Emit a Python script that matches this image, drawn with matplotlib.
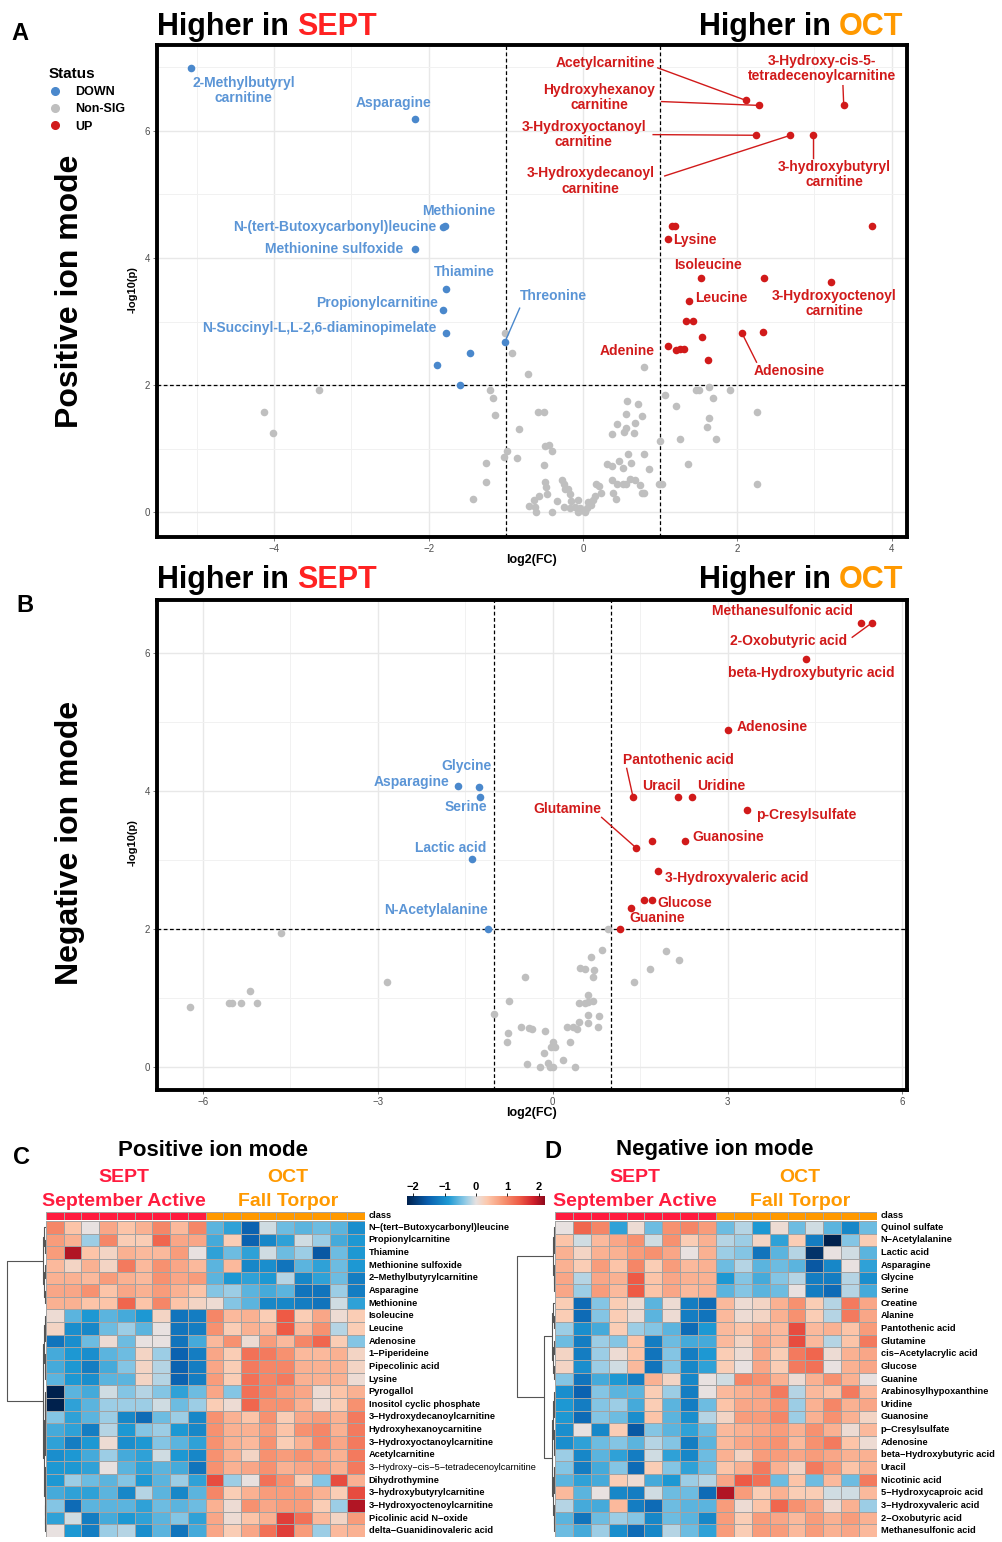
import numpy as np
import matplotlib.pyplot as plt
from matplotlib.colors import LinearSegmentedColormap, ListedColormap
from matplotlib.lines import Line2D

plt.rcParams['font.family'] = ['Liberation Sans', 'DejaVu Sans']

# ---------------- data: panel A, positive ion mode ----------------
pos_down_fc = [-5.08, -2.18, -1.79, -1.81, -2.18, -1.77, -1.81, -1.77, -1.01, -1.46, -1.89, -1.59]
pos_down_p = [6.99, 6.19, 4.50, 4.49, 4.14, 3.51, 3.18, 2.82, 2.68, 2.50, 2.31, 2.00]
pos_down_names = ["2-Methylbutyryl\ncarnitine", "Asparagine", "Methionine",
                  "N-(tert-Butoxycarbonyl)leucine", "Methionine sulfoxide", "Thiamine",
                  "Propionylcarnitine", "N-Succinyl-L,L-2,6-diaminopimelate", "Threonine", "", "", ""]

pos_up_fc = [2.11, 2.28, 3.38, 2.24, 2.69, 2.98, 1.10, 1.53, 1.37, 3.22, 1.10, 2.06,
             1.15, 1.19, 3.74, 2.35, 1.34, 1.43, 1.54, 2.34, 1.20, 1.26, 1.31, 1.62]
pos_up_p = [6.48, 6.40, 6.40, 5.93, 5.93, 5.93, 4.30, 3.69, 3.33, 3.62, 2.61, 2.82,
            4.51, 4.50, 4.51, 3.69, 3.01, 3.01, 2.75, 2.83, 2.55, 2.57, 2.57, 2.39]
pos_up_names = ["Acetylcarnitine", "Hydroxyhexanoy\ncarnitine", "3-Hydroxy-cis-5-\ntetradecenoylcarnitine",
                "3-Hydroxyoctanoyl\ncarnitine", "3-Hydroxydecanoyl\ncarnitine", "3-hydroxybutyryl\ncarnitine",
                "Lysine", "Isoleucine", "Leucine", "3-Hydroxyoctenoyl\ncarnitine", "Adenine", "Adenosine",
                "", "", "", "", "", "", "", "", "", "", "", ""]

pos_ns_fc = [-4.13, -4.02, -3.42, -1.01, -0.92, -0.71, -1.21, -1.16, -1.14, -0.83, -0.58, -0.50,
             -0.98, -1.02, -0.86, -1.25, -1.26, -1.42, -0.49, -0.44, -0.40, -0.50, -0.49, -0.48,
             -0.47, -0.57, -0.64, -0.70, -0.62, -0.61, -0.40, -0.34, -0.27, -0.25, -0.23, -0.19,
             -0.17, -0.15, -0.25, -0.10, -0.07, -0.02, 0.03, 0.05, 0.07, 0.11, 0.13, 0.155,
             -0.06, -0.04, -0.17, 0.17, 0.21, 0.24, 0.31, 0.38, 0.39, 0.43, 0.38, 0.44, 0.52,
             0.61, 0.68, 0.56, 0.74, 0.76, 0.79, 0.47, 0.52, 0.62, 0.85, 0.59, 0.79, 0.38, 0.53,
             0.66, 0.44, 0.56, 0.68, 0.57, 0.72, 0.56, 0.77, 0.79, 0.98, 1.02, 1.00, 1.07, 1.21,
             1.47, 1.50, 1.64, 1.69, 1.90, 1.64, 1.61, 1.72, 1.26, 1.36, 2.25, 2.25]
pos_ns_p = [1.58, 1.25, 1.92, 2.82, 2.50, 2.17, 1.92, 1.80, 1.53, 1.31, 1.58, 1.58,
            0.97, 0.87, 0.85, 0.78, 0.47, 0.20, 1.04, 1.06, 0.96, 0.75, 0.47, 0.40,
            0.29, 0.26, 0.19, 0.10, 0.08, 0.0, 0.0, 0.18, 0.50, 0.44, 0.36, 0.36,
            0.29, 0.18, 0.08, 0.08, 0.0, 0.03, 0.0, 0.07, 0.16, 0.12, 0.19, 0.25,
            0.19, 0.07, 0.07, 0.45, 0.41, 0.31, 0.76, 0.73, 0.31, 0.20, 0.50, 0.45, 0.45,
            0.52, 0.50, 0.45, 0.43, 0.31, 0.31, 0.80, 0.70, 0.77, 0.68, 0.92, 0.92, 1.23, 1.26,
            1.24, 1.39, 1.33, 1.41, 1.75, 1.70, 1.54, 1.51, 2.28, 0.45, 0.44, 1.12, 1.85, 1.67,
            1.92, 1.92, 1.97, 1.80, 1.92, 1.48, 1.34, 1.15, 1.15, 0.76, 1.57, 0.44]

# ---------------- data: panel B, negative ion mode ----------------
neg_down_fc = [-1.63, -1.27, -1.25, -1.39, -1.11]
neg_down_p = [4.08, 4.06, 3.92, 3.01, 2.00]
neg_down_names = ["Asparagine", "Glycine", "Serine", "Lactic acid", "N-Acetylalanine"]

neg_up_fc = [5.29, 5.48, 4.34, 3.00, 1.38, 2.15, 2.39, 3.34, 2.27, 1.43, 1.80, 1.70, 1.34, 1.71, 1.57, 1.15]
neg_up_p = [6.44, 6.44, 5.91, 4.88, 3.91, 3.91, 3.91, 3.72, 3.28, 3.18, 2.84, 2.43, 2.30, 3.28, 2.43, 2.00]
neg_up_names = ["Methanesulfonic acid", "2-Oxobutyric acid", "beta-Hydroxybutyric acid", "Adenosine",
                "Pantothenic acid", "Uracil", "Uridine", "p-Cresylsulfate", "Guanosine", "Glutamine",
                "3-Hydroxyvaleric acid", "Glucose", "Guanine", "", "", ""]

neg_ns_fc = [-4.66, -6.23, -5.55, -5.51, -5.34, -5.08, -5.20, -2.84, -1.01, -0.75, -0.48, -0.76,
             -0.78, -0.54, -0.40, -0.36, -0.14, 0.0, -0.03, 0.04, -0.15, -0.44, -0.21, -0.08,
             -0.04, 0.0, 0.17, 0.30, 0.38, 0.24, 0.34, 0.41, 0.45, 0.60, 0.60, 0.79, 0.78, 0.46,
             0.55, 0.60, 0.69, 0.61, 0.70, 0.71, 0.47, 0.55, 0.65, 0.85, 0.95, 1.94, 2.16, 1.67, 1.39]
neg_ns_p = [1.94, 0.87, 0.93, 0.93, 0.93, 0.93, 1.11, 1.23, 0.77, 0.96, 1.31, 0.49,
            0.36, 0.58, 0.57, 0.56, 0.53, 0.36, 0.29, 0.29, 0.21, 0.04, 0.01, 0.06,
            0.01, 0.0, 0.11, 0.37, 0.0, 0.58, 0.58, 0.56, 0.66, 0.64, 0.76, 0.74, 0.58, 0.93,
            0.93, 0.95, 0.96, 1.05, 1.31, 1.41, 1.44, 1.43, 1.60, 1.70, 2.00, 1.69, 1.56, 1.42, 1.23]

# ---------------- data: heatmaps (z-scores) ----------------
pos_rows = ["N\u2212(tert\u2212Butoxycarbonyl)leucine", "Propionylcarnitine", "Thiamine", "Methionine sulfoxide",
            "2\u2212Methylbutyrylcarnitine", "Asparagine", "Methionine", "Isoleucine", "Leucine", "Adenosine",
            "1\u2212Piperideine", "Pipecolinic acid", "Lysine", "Pyrogallol", "Inositol cyclic phosphate",
            "3\u2212Hydroxydecanoylcarnitine", "Hydroxyhexanoycarnitine", "3\u2212Hydroxyoctanoylcarnitine",
            "Acetylcarnitine", "3\u2212Hydroxy\u2212cis\u22125\u2212tetradecenoylcarnitine", "Dihydrothymine",
            "3\u2212hydroxybutyrylcarnitine", "3\u2212Hydroxyoctenoylcarnitine", "Picolinic acid N\u2212oxide",
            "delta\u2212Guanidinovaleric acid"]
pos_heat = [
    [1.0, 0.4, 0.0, 0.7, 0.4, 0.6, 1.0, 0.5, 1.0, -0.6, -0.8, -1.5, -0.1, -0.5, -0.6, -0.5, -0.6, -1.0],
    [0.8, 0.6, -0.3, 1.0, 0.3, 0.3, 1.3, 0.7, 0.7, -0.7, 0.3, -1.5, -1.1, -0.8, -0.1, -0.3, -0.7, -0.9],
    [0.8, 2.0, 0.4, 0.2, 0.6, 0.5, 0.5, 0.8, 0.0, -0.8, -0.5, -0.8, -0.1, -0.5, -0.3, -1.6, -0.5, -0.9],
    [0.5, 0.2, 0.6, 0.2, 1.1, 0.5, 0.9, 0.7, 0.5, -0.6, 0.5, -1.1, -1.0, -1.3, -0.6, -0.8, -0.5, -0.9],
    [0.6, 0.6, 0.5, 0.8, 0.6, 0.5, 0.9, 0.7, 0.8, -0.6, -0.9, -0.8, -0.9, -0.2, -1.1, -0.8, -0.5, -1.2],
    [0.7, 0.7, 0.9, 0.4, 0.7, 0.6, 0.8, 0.6, 0.4, -0.4, -0.3, -0.6, -0.7, -0.6, -1.3, -1.3, -0.3, -1.2],
    [0.6, 0.6, 0.4, 0.4, 1.3, 0.4, 1.0, 0.4, 0.2, 0.1, -0.4, -0.6, -1.1, -1.1, -1.2, -1.3, -0.1, -0.8],
    [0.1, -0.6, -0.9, -0.6, -0.7, -0.9, 0.2, -1.3, -1.2, 1.0, 0.5, 0.6, 0.3, 1.4, 0.3, 0.7, 0.1, 0.3],
    [0.2, -1.0, -1.1, -0.5, -0.3, -0.6, 0.0, -1.3, -1.2, 0.9, 0.3, 0.6, 0.5, 1.4, 0.5, 0.9, -0.2, 0.3],
    [-1.3, -1.0, -0.5, 0.1, -0.5, 0.0, 0.0, -1.3, -0.7, 0.5, 0.9, 0.1, 0.8, 0.5, 1.0, 1.3, 0.3, -0.4],
    [-0.7, -0.9, -1.0, -0.6, -0.5, 0.2, -0.3, -1.5, -1.2, 0.7, 0.3, 1.2, 1.1, 0.9, 0.5, 0.5, 0.6, 0.2],
    [-0.7, -0.9, -1.2, -0.7, -0.4, 0.2, -0.2, -1.5, -1.2, 0.7, 0.3, 1.1, 1.0, 1.0, 0.6, 0.6, 0.6, 0.2],
    [-0.6, -0.9, -1.0, -0.6, -0.6, 0.2, -0.2, -1.5, -1.2, 0.8, 0.3, 1.2, 1.0, 1.1, 0.6, 0.6, 0.6, 0.1],
    [-2.2, -0.6, -0.7, -0.1, -0.4, -0.2, -0.4, -0.8, -0.5, 0.7, -0.4, 1.2, 1.0, 0.8, 0.7, 0.1, 0.4, 0.6],
    [-2.4, -0.8, -0.6, -0.3, -0.3, -0.3, -0.1, -0.5, -0.3, 0.3, 0.1, 1.3, 0.9, 0.9, 0.6, 0.1, 0.3, 0.9],
    [-0.4, -0.8, -0.6, -0.3, -1.1, -1.4, -0.5, -0.3, -1.1, 0.9, 0.6, 0.4, 0.9, 0.3, 0.7, 0.8, 0.6, 1.1],
    [-0.7, -0.8, -1.2, -0.2, -0.9, -0.4, -0.3, -0.9, -1.1, 0.9, 0.6, 0.6, 0.8, 0.4, 0.9, 1.0, 0.6, 1.1],
    [-0.8, -1.2, -0.9, 0.1, -1.0, -0.9, -0.4, -0.6, -0.8, 0.9, 0.6, 0.5, 0.9, 0.3, 0.6, 1.0, 0.7, 1.1],
    [-1.0, -0.9, -0.7, -0.3, -0.7, -0.8, -0.1, -0.9, -1.1, 0.9, 0.6, 0.2, 0.9, 0.8, 0.9, 0.7, 0.6, 1.1],
    [-0.9, -0.9, -0.8, 0.0, -0.6, -0.8, -0.6, -0.7, -1.3, 0.9, 0.6, 0.7, 0.9, 0.6, 0.7, 0.8, 0.6, 1.1],
    [-0.9, -0.3, -0.5, -0.6, -0.4, -0.9, -0.6, -0.3, -0.8, 1.5, -0.3, 0.0, 1.2, 0.9, 0.3, -0.4, 1.5, 0.6],
    [-0.7, -0.8, -0.8, -0.6, -1.1, -0.2, -0.6, -1.1, -0.6, 1.0, 0.3, 0.6, 0.8, 0.8, 0.8, 0.6, 0.3, 1.5],
    [-0.4, -1.4, -0.6, -0.6, -0.6, -0.8, -0.5, -0.6, -0.5, 0.6, 0.1, 0.9, 0.7, 0.8, 0.8, 0.3, -0.3, 2.0],
    [-0.8, -0.1, -1.2, -0.7, -0.9, -0.8, -0.6, -0.4, -0.8, 0.7, 0.1, 0.4, 0.6, 1.6, 1.2, 0.5, 0.2, 0.8],
    [0.0, -0.9, -1.2, -0.3, -0.2, -1.0, -0.6, -1.3, -0.7, 0.7, 0.3, 0.7, 1.2, 1.6, 0.8, -0.3, 0.5, 0.6],
]

neg_rows = ["Quinol sulfate", "N\u2212Acetylalanine", "Lactic acid", "Asparagine", "Glycine", "Serine",
            "Creatine", "Alanine", "Pantothenic acid", "Glutamine", "cis\u2212Acetylacrylic acid", "Glucose",
            "Guanine", "Arabinosylhypoxanthine", "Uridine", "Guanosine", "p\u2212Cresylsulfate", "Adenosine",
            "beta\u2212Hydroxybutyric acid", "Uracil", "Nicotinic acid", "5\u2212Hydroxycaproic acid",
            "3\u2212Hydroxyvaleric acid", "2\u2212Oxobutyric acid", "Methanesulfonic acid"]
neg_heat = [
    [0.0, 1.3, 1.0, -0.8, 0.1, -0.5, 0.9, 1.0, 0.8, -0.5, -0.2, -0.9, 0.1, -0.5, -0.1, -0.6, -1.1, -0.5],
    [0.4, -0.1, 0.5, 0.7, 0.9, -0.1, 0.9, 0.3, 0.6, -0.2, -0.3, 0.2, -0.8, 0.3, -1.2, -2.3, -0.4, 0.3],
    [0.6, 0.2, 0.6, 0.6, 0.8, 0.9, 0.7, 0.0, 0.6, -0.3, -0.4, -1.3, -0.6, -0.2, -2.0, 0.0, -0.1, -0.6],
    [0.6, 0.3, 0.8, 0.4, 1.0, 0.3, 0.8, 0.5, 0.6, -0.5, -0.2, -0.6, -0.5, -0.6, -1.6, -1.1, 0.0, -0.8],
    [0.7, -0.2, 0.7, 0.6, 1.4, 0.4, 0.7, 0.6, 0.6, -0.9, -0.4, -0.7, -0.4, -0.2, -1.2, -1.2, -0.2, -1.0],
    [0.7, -0.3, 0.8, 0.5, 1.4, 0.4, 0.7, 0.5, 0.6, -0.6, -0.4, -0.6, -0.5, 0.0, -1.2, -1.4, -0.2, -0.7],
    [0.3, -1.4, -0.4, 0.3, 0.1, -0.6, 0.1, -1.2, -1.4, 0.5, 0.1, 0.2, 0.6, 0.9, 0.3, -0.2, 1.1, 0.7],
    [0.3, -1.4, -0.4, 0.3, 0.1, -0.6, 0.1, -1.2, -1.3, 0.5, 0.1, 0.2, 0.6, 0.9, 0.3, -0.2, 1.1, 0.7],
    [-0.3, -1.0, -0.7, 0.3, -0.3, -0.4, -0.6, -1.4, -0.9, 0.5, 0.4, 0.6, 0.5, 1.5, 0.5, 0.6, 0.4, 0.8],
    [-0.5, -1.2, -0.3, -0.4, 0.4, -1.2, -0.5, -0.7, -0.7, 0.5, 0.2, 0.7, 0.5, 1.5, 0.5, -0.2, 0.4, 1.1],
    [0.2, -1.2, -0.3, 0.1, 0.4, -1.3, -0.4, -1.2, -0.9, 0.3, 0.1, 0.7, 0.3, 1.1, 1.3, 0.1, 0.6, 0.7],
    [0.2, -1.0, -0.3, -0.1, 0.5, -1.3, -0.4, -1.1, -0.8, 0.3, 0.0, 0.7, 0.3, 1.1, 1.2, 0.0, 0.6, 0.7],
    [-0.4, -1.3, -0.7, -0.9, -1.2, 0.6, 0.2, -1.1, 0.0, -0.1, 1.0, 0.9, 0.6, 0.1, 0.6, 0.9, 0.6, 0.0],
    [-1.0, -1.5, -0.4, -0.6, -0.6, 0.3, -0.3, -1.2, 0.0, 0.5, 0.6, 0.7, 1.1, -0.2, 0.5, 0.4, 1.1, 0.5],
    [-0.9, -1.2, -0.4, -0.3, -0.7, 0.3, -0.6, -1.2, -0.5, 0.4, 0.7, 0.7, 0.9, -0.3, 0.6, 1.0, 0.6, 0.7],
    [-0.9, -1.4, -0.4, -0.5, -1.0, 0.4, -0.6, -1.0, -0.2, 0.2, 0.8, 0.8, 1.0, -0.3, 0.6, 0.9, 0.6, 0.2],
    [-1.0, 0.0, -1.1, 0.3, -1.6, -0.4, -0.6, -0.8, -0.5, 0.5, 0.6, 0.7, 0.8, 0.6, 0.9, 0.6, 0.1, 0.5],
    [-1.0, -0.8, -0.5, -0.4, -0.6, -0.2, -0.4, -1.2, -0.6, 0.5, 0.7, 0.8, 0.9, 0.5, 0.9, 1.1, 0.4, 0.1],
    [-0.3, -1.1, -0.6, -0.8, -1.2, -0.1, -0.8, -1.1, -0.5, 0.6, 0.2, 0.8, 0.8, 0.7, 0.8, 0.7, 0.6, 0.6],
    [-0.4, -1.2, -0.7, -0.4, -1.4, 0.3, -0.4, -0.8, -0.5, 0.4, 0.6, 1.1, 0.6, 0.2, 1.1, 0.8, 0.4, 0.6],
    [-0.6, -0.8, -0.7, 0.3, 0.1, -0.7, -0.9, -0.3, -0.2, 0.7, 1.4, 1.2, -0.5, 0.4, -0.5, 0.5, -0.5, 1.1],
    [0.5, -0.6, 0.0, -1.1, -1.2, -0.1, -0.5, -0.5, -1.4, 2.0, 0.8, 0.3, 0.6, 0.3, 0.3, -0.1, -0.1, 0.5],
    [-0.2, -0.7, -0.7, 0.5, -1.2, -1.4, -0.5, -0.6, -0.6, 0.8, 0.1, 0.4, 1.3, 0.9, 0.7, 0.1, 0.6, -0.3],
    [-0.6, -1.3, -0.5, -0.3, -0.4, -1.1, -0.5, -0.6, -1.1, 0.8, 0.3, 0.8, 0.7, 0.5, 0.8, 0.6, 0.8, 0.6],
    [-0.5, -0.7, -0.3, -1.0, -1.4, -1.1, -0.2, -0.5, -0.8, 0.8, 0.3, 0.8, 0.8, 0.5, 0.8, 0.6, 0.7, 0.5],
]
sample_class = ["SEPT"] * 9 + ["OCT"] * 9
pos_groups = [list(range(0, 7)), list(range(7, 13)), list(range(13, 25))]
neg_groups = [list(range(0, 6)), list(range(6, 13)), list(range(13, 25))]

# ---------------- styles / layout ----------------
BLUE = '#4a88cc'
BLUE_TXT = '#5b95d6'
RED = '#d11a1a'
GREY = '#bfbfbf'
SEPT_COL = '#ff1c3f'
OCT_COL = '#ff9900'
TITLE_RED = '#ff2222'

pos_layout = {
    "2-Methylbutyryl\ncarnitine": (-4.40, 6.63, 'center', None),
    "Asparagine": (-2.45, 6.43, 'center', None),
    "Methionine": (-1.61, 4.74, 'center', None),
    "N-(tert-Butoxycarbonyl)leucine": (-1.90, 4.49, 'right', None),
    "Methionine sulfoxide": (-2.33, 4.14, 'right', None),
    "Thiamine": (-1.54, 3.78, 'center', None),
    "Propionylcarnitine": (-1.88, 3.29, 'right', None),
    "N-Succinyl-L,L-2,6-diaminopimelate": (-1.90, 2.90, 'right', None),
    "Threonine": (-0.38, 3.40, 'center', (-0.82, 3.21)),
    "Acetylcarnitine": (0.285, 7.06, 'center', (0.97, 6.99)),
    "Hydroxyhexanoy\ncarnitine": (0.21, 6.52, 'center', (1.02, 6.46)),
    "3-Hydroxy-cis-5-\ntetradecenoylcarnitine": (3.10, 6.98, 'center', (3.37, 6.71)),
    "3-Hydroxyoctanoyl\ncarnitine": (0.01, 5.94, 'center', (0.91, 5.94)),
    "3-Hydroxydecanoyl\ncarnitine": (0.10, 5.21, 'center', (1.06, 5.29)),
    "3-hydroxybutyryl\ncarnitine": (3.26, 5.31, 'center', (2.98, 5.57)),
    "Lysine": (1.17, 4.28, 'left', None),
    "Isoleucine": (1.62, 3.89, 'center', None),
    "Leucine": (1.45, 3.37, 'left', None),
    "3-Hydroxyoctenoyl\ncarnitine": (3.26, 3.28, 'center', None),
    "Adenine": (0.93, 2.54, 'right', None),
    "Adenosine": (2.68, 2.22, 'center', (2.25, 2.36)),
}
neg_layout = {
    "Glycine": (-1.48, 4.36, 'center', None),
    "Asparagine": (-2.42, 4.13, 'center', None),
    "Serine": (-1.49, 3.77, 'center', None),
    "Lactic acid": (-1.75, 3.17, 'center', None),
    "N-Acetylalanine": (-2.01, 2.28, 'center', None),
    "Methanesulfonic acid": (3.95, 6.61, 'center', None),
    "2-Oxobutyric acid": (4.04, 6.17, 'center', (5.14, 6.23)),
    "beta-Hydroxybutyric acid": (4.43, 5.71, 'center', None),
    "Adenosine": (3.16, 4.93, 'left', None),
    "Pantothenic acid": (2.15, 4.45, 'center', (1.27, 4.33)),
    "Uracil": (1.87, 4.07, 'center', None),
    "Uridine": (2.90, 4.07, 'center', None),
    "p-Cresylsulfate": (3.49, 3.65, 'left', None),
    "Glutamine": (0.26, 3.74, 'center', (0.84, 3.62)),
    "Guanosine": (2.39, 3.33, 'left', None),
    "3-Hydroxyvaleric acid": (1.92, 2.74, 'left', None),
    "Glucose": (1.79, 2.38, 'left', None),
    "Guanine": (1.80, 2.16, 'center', None),
}

W, H = 1003, 1542
fig = plt.figure(figsize=(W / 100, H / 100), dpi=100)


def box(x0, y0, x1, y1):
    return [x0 / W, 1 - y1 / H, (x1 - x0) / W, (y1 - y0) / H]


def ftext(x, y, s, **kw):
    return fig.text(x / W, 1 - y / H, s, **kw)


def volcano(rect, xlim, ylim, xmaj, ymaj, xmin, ymin, ns, down, up, down_names, up_names, layout):
    ax = fig.add_axes(box(*rect))
    ax.set_xlim(xlim)
    ax.set_ylim(ylim)
    ax.set_xticks(xmaj)
    ax.set_yticks(ymaj)
    ax.set_xticks(xmin, minor=True)
    ax.set_yticks(ymin, minor=True)
    ax.grid(which='major', color='#e8e8e8', lw=1.0)
    ax.grid(which='minor', color='#f1f1f1', lw=0.7)
    ax.set_axisbelow(True)
    ax.tick_params(which='major', length=3, width=0.6, color='#666666', labelsize=7,
                   labelcolor='#4d4d4d', pad=2)
    ax.tick_params(which='minor', length=0)
    for s in ax.spines.values():
        s.set_linewidth(2.8)
    for v in (-1, 1):
        ax.axvline(v, color='black', ls=(0, (3, 2)), lw=0.9, zorder=2)
    ax.axhline(2, color='black', ls=(0, (3, 2)), lw=0.9, zorder=2)
    ax.scatter(ns[0], ns[1], s=30, color=GREY, lw=0, zorder=3)
    ax.scatter(down[0], down[1], s=30, color=BLUE, lw=0, zorder=4)
    ax.scatter(up[0], up[1], s=30, color=RED, lw=0, zorder=4)
    for names, pts, col, lcol in ((down_names, down, BLUE_TXT, BLUE), (up_names, up, RED, RED)):
        for name, x, y in zip(names, pts[0], pts[1]):
            if not name:
                continue
            tx, ty, ha, seg = layout[name]
            if seg is not None:
                ax.plot([seg[0], x], [seg[1], y], color=lcol, lw=1.0, zorder=3)
            ax.text(tx, ty, name, ha=ha, va='center', color=col, fontsize=10,
                    fontweight='bold', linespacing=1.1, zorder=5)
    return ax


def title_pair(y, left_word, right_word):
    r = fig.canvas.get_renderer()
    t = ftext(157, y, "Higher in", ha='left', va='center', fontsize=22, fontweight='bold')
    bb = t.get_window_extent(renderer=r)
    fig.text((bb.x1 + 8) / W, 1 - y / H, left_word, ha='left', va='center', fontsize=22,
             fontweight='bold', color=TITLE_RED)
    t2 = ftext(903, y, right_word, ha='right', va='center', fontsize=22, fontweight='bold', color=OCT_COL)
    bb2 = t2.get_window_extent(renderer=r)
    fig.text((bb2.x0 - 8) / W, 1 - y / H, "Higher in", ha='right', va='center', fontsize=22,
             fontweight='bold')


# ---------------- panel A ----------------
volcano((157, 45, 907, 537), (-5.52, 4.2), (-0.39, 7.35), [-4, -2, 0, 2, 4], [0, 2, 4, 6],
        [-5, -3, -1, 1, 3], [1, 3, 5, 7], (pos_ns_fc, pos_ns_p), (pos_down_fc, pos_down_p),
        (pos_up_fc, pos_up_p), pos_down_names, pos_up_names, pos_layout)
title_pair(27, "SEPT", "OCT")
ftext(20, 33, "A", ha='center', va='center', fontsize=17, fontweight='bold')
ftext(70, 291, "Positive ion mode", rotation=90, ha='center', va='center', fontsize=23, fontweight='bold')
ftext(133, 290, "-log10(p)", rotation=90, ha='center', va='center', fontsize=8, fontweight='bold')
ftext(532, 560, "log2(FC)", ha='center', va='center', fontsize=9, fontweight='bold')

handles = [Line2D([], [], marker='o', ls='', color=c, markersize=5.5) for c in (BLUE, GREY, RED)]
leg = fig.legend(handles, ["DOWN", "Non-SIG", "UP"], title="Status", loc='upper left',
                 bbox_to_anchor=(49 / W, 1 - 67 / H), frameon=False, fontsize=9,
                 handlelength=1.0, handletextpad=1.1, labelspacing=0.42, borderaxespad=0,
                 borderpad=0, alignment='left')
leg.get_title().set_fontweight('bold')
leg.get_title().set_fontsize(11)
for t in leg.get_texts():
    t.set_fontweight('bold')

# ---------------- panel B ----------------
volcano((157, 600, 907, 1090), (-6.79, 6.08), (-0.33, 6.77), [-6, -3, 0, 3, 6], [0, 2, 4, 6],
        [-4.5, -1.5, 1.5, 4.5], [1, 3, 5], (neg_ns_fc, neg_ns_p), (neg_down_fc, neg_down_p),
        (neg_up_fc, neg_up_p), neg_down_names, neg_up_names, neg_layout)
title_pair(580, "SEPT", "OCT")
ftext(25, 606, "B", ha='center', va='center', fontsize=17, fontweight='bold')
ftext(70, 843, "Negative ion mode", rotation=90, ha='center', va='center', fontsize=23, fontweight='bold')
ftext(133, 843, "-log10(p)", rotation=90, ha='center', va='center', fontsize=8, fontweight='bold')
ftext(532, 1113, "log2(FC)", ha='center', va='center', fontsize=9, fontweight='bold')

# ---------------- heatmaps ----------------
hm_cmap = LinearSegmentedColormap.from_list('hm', [
    (0.0, '#00214d'), (0.15, '#0a5fae'), (0.3, '#1e9ad4'), (0.42, '#8fcae6'), (0.5, '#e7e2e1'),
    (0.58, '#fdc9ae'), (0.7, '#f79472'), (0.82, '#ee5a45'), (0.92, '#cf1f2b'), (1.0, '#8e0a1c')])
class_cmap = ListedColormap([SEPT_COL, OCT_COL])


def balanced(rows, h, decay=0.6):
    if len(rows) == 1:
        return rows[0]
    mid = len(rows) // 2
    return (h, balanced(rows[:mid], h * decay), balanced(rows[mid:], h * decay))


def draw_tree(ax, node):
    if isinstance(node, int):
        return node + 0.5, 0.0
    h, left, right = node
    yl, hl = draw_tree(ax, left)
    yr, hr = draw_tree(ax, right)
    ax.plot([hl, h, h, hr], [yl, yl, yr, yr], color='#555555', lw=0.8, solid_capstyle='butt')
    return (yl + yr) / 2, h


def heatmap(x0, x1, values, rows, tree, dx0, dx1):
    v = np.array(values)
    nr, nc = v.shape
    ax = fig.add_axes(box(x0, 1221, x1, 1537))
    ax.pcolormesh(v, cmap=hm_cmap, vmin=-2.2, vmax=2.2, edgecolors='#a3a3a3', linewidth=0.5)
    ax.set_xlim(0, nc)
    ax.set_ylim(nr, 0)
    ax.axis('off')
    for i, name in enumerate(rows):
        long = len(name) > 32
        ax.text(nc + 0.2, i + 0.5, name, ha='left', va='center', fontsize=6.7,
                fontweight='normal' if long else 'bold')
    cax = fig.add_axes(box(x0, 1212, x1, 1220))
    codes = np.array([[0 if c == "SEPT" else 1 for c in sample_class]])
    cax.pcolormesh(codes, cmap=class_cmap, vmin=0, vmax=1, edgecolors='#a3a3a3', linewidth=0.5)
    cax.set_xlim(0, nc)
    cax.axis('off')
    cax.text(nc + 0.2, 0.5, "class", ha='left', va='center', fontsize=6.7, fontweight='bold')
    dax = fig.add_axes(box(dx0, 1221, dx1, 1537))
    dax.set_xlim(1.05, 0)
    dax.set_ylim(nr, 0)
    dax.axis('off')
    draw_tree(dax, tree)


pos_tree = (1.0, balanced(pos_groups[0], 0.07),
            (0.08, balanced(pos_groups[1], 0.05), balanced(pos_groups[2], 0.06)))
neg_tree = (1.0, balanced(neg_groups[0], 0.06),
            (0.3, balanced(neg_groups[1], 0.08), balanced(neg_groups[2], 0.08)))
heatmap(46, 365, pos_heat, pos_rows, pos_tree, 5, 46)
heatmap(555, 877, neg_heat, neg_rows, neg_tree, 515, 555)

# colour bar
cbax = fig.add_axes(box(407, 1196, 545, 1205))
grad = np.linspace(-2.2, 2.2, 256)[None, :]
cbax.imshow(grad, cmap=hm_cmap, vmin=-2.2, vmax=2.2, aspect='auto', extent=[-2.2, 2.2, 0, 1])
cbax.set_yticks([])
cbax.set_xticks([-2, -1, 0, 1, 2])
cbax.xaxis.tick_top()
cbax.tick_params(axis='x', length=2, width=0.6, labelsize=8, pad=1)
for lab in cbax.get_xticklabels():
    lab.set_fontweight('bold')
for s in cbax.spines.values():
    s.set_visible(False)

# heatmap titles
ftext(22, 1157, "C", ha='center', va='center', fontsize=17, fontweight='bold')
ftext(213, 1150, "Positive ion mode", ha='center', va='center', fontsize=16, fontweight='bold')
ftext(553, 1152, "D", ha='center', va='center', fontsize=17, fontweight='bold')
ftext(715, 1150, "Negative ion mode", ha='center', va='center', fontsize=16, fontweight='bold')
for cx_s, cx_o in ((124, 288), (635, 800)):
    ftext(cx_s, 1178, "SEPT", ha='center', va='center', fontsize=14, fontweight='bold', color=SEPT_COL)
    ftext(cx_s, 1202, "September Active", ha='center', va='center', fontsize=14, fontweight='bold',
          color=SEPT_COL)
    ftext(cx_o, 1178, "OCT", ha='center', va='center', fontsize=14, fontweight='bold', color=OCT_COL)
    ftext(cx_o, 1202, "Fall Torpor", ha='center', va='center', fontsize=14, fontweight='bold',
          color=OCT_COL)

fig.savefig("out.png", dpi=100)
